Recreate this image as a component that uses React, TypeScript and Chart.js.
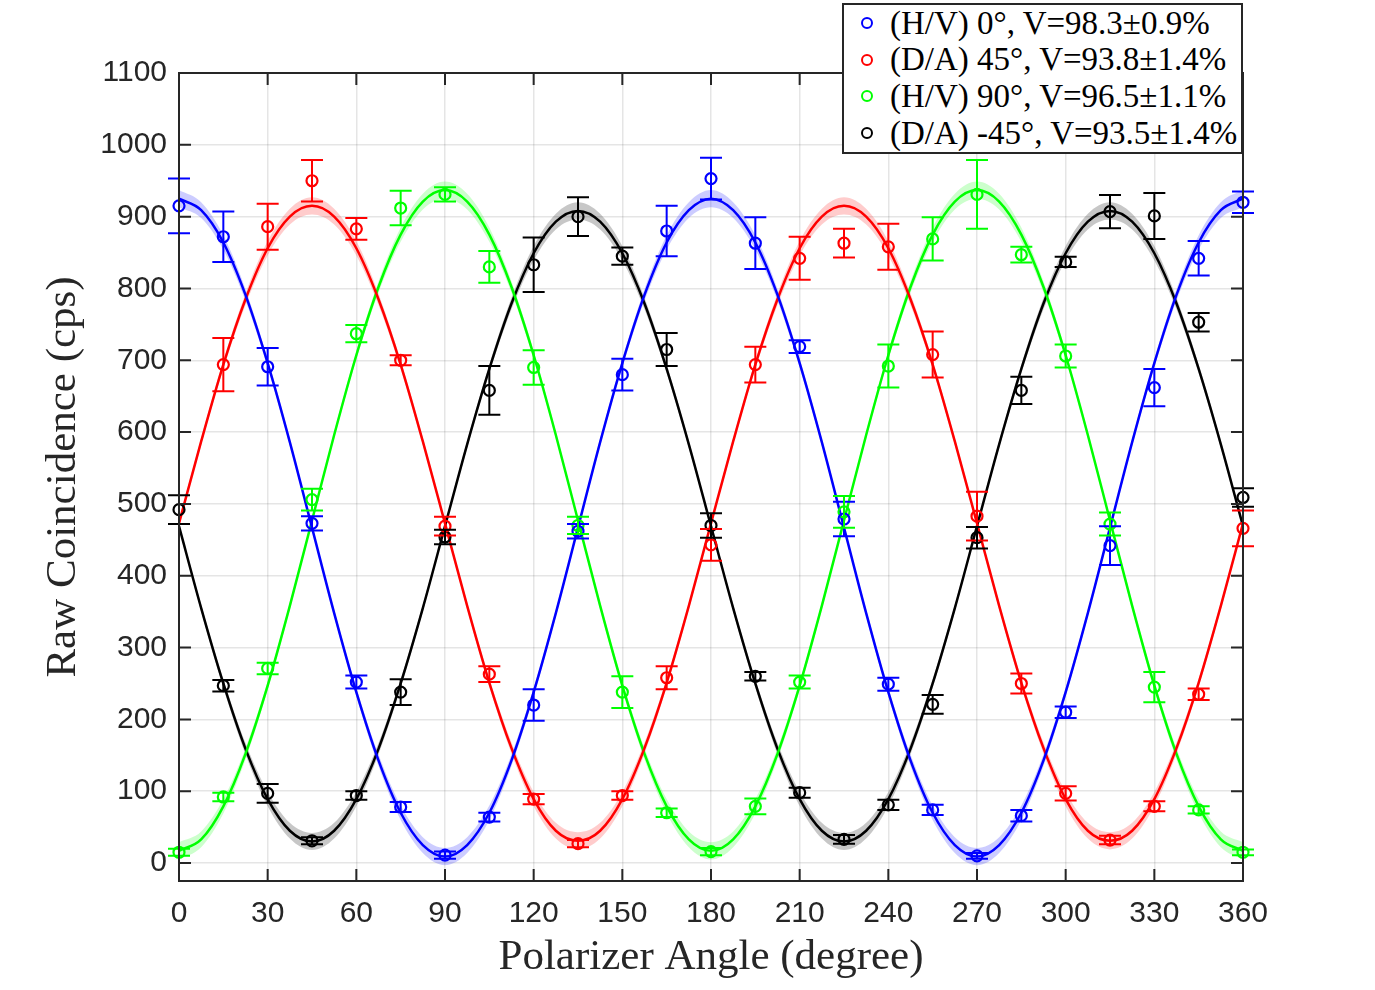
import { useEffect, useRef } from "react"
import { Chart, registerables, type Plugin } from "chart.js"

Chart.register(...registerables)

// measured polarizer angles (degree)
const angles = [0, 15, 30, 45, 60, 75, 90, 105, 120, 135, 150, 165, 180, 195, 210, 225, 240, 255, 270, 285, 300, 315, 330, 345, 360]

// raw coincidence counts (cps) and their error bars (null = no point)
const hv0Counts = [915, 872, 691, 473, 252, 78, 11, 64, 220, 462, 680, 880, 953, 863, 719, 479, 249, 74, 10, 66, 210, 442, 662, 842, 920]
const hv0Errors = [38, 35, 26, 10, 9, 7, 5, 6, 22, 10, 22, 35, 29, 36, 9, 24, 9, 7, 4, 8, 8, 27, 26, 24, 15]

const da45Counts = [null, 694, 886, 950, 883, 700, 469, 263, 89, 27, 94, 258, 443, 694, 842, 863, 858, 708, 483, 250, 97, 32, 79, 235, 466]
const da45Errors = [0, 37, 32, 29, 15, 7, 13, 11, 7, 5, 6, 16, 22, 25, 30, 20, 32, 32, 34, 14, 10, 6, 7, 8, 25]

const hv90Counts = [15, 92, 271, 506, 737, 912, 931, 830, 690, 470, 238, 70, 16, 79, 252, 489, 692, 869, 931, 847, 706, 472, 245, 74, 15]
const hv90Errors = [5, 6, 8, 15, 12, 24, 10, 22, 24, 12, 22, 6, 5, 11, 9, 22, 30, 30, 48, 11, 16, 16, 21, 5, 4]

const daM45Counts = [492, 247, 97, 31, 94, 238, 454, 658, 833, 900, 845, 715, 470, 260, 98, 33, 81, 221, 453, 658, 837, 907, 901, 753, 509]
const daM45Errors = [20, 8, 13, 5, 6, 18, 10, 34, 38, 27, 12, 23, 17, 6, 7, 6, 7, 13, 15, 19, 7, 23, 32, 13, 13]

// fitted curves, read every 7.5 degree
const fitAngles = [
  0, 7.5, 15, 22.5, 30, 37.5, 45, 52.5, 60, 67.5, 75, 82.5, 90, 97.5, 105, 112.5, 120, 127.5, 135, 142.5, 150, 157.5, 165, 172.5,
  180, 187.5, 195, 202.5, 210, 217.5, 225, 232.5, 240, 247.5, 255, 262.5, 270, 277.5, 285, 292.5, 300, 307.5, 315, 322.5, 330, 337.5, 345, 352.5, 360,
]
const hv0Fit = [
  925, 909, 864, 791, 696, 586, 467, 348, 238, 143, 70, 25, 9, 25, 70, 143, 238, 348, 467, 586, 696, 791, 864, 909,
  925, 909, 864, 791, 696, 586, 467, 348, 238, 143, 70, 25, 9, 25, 70, 143, 238, 348, 467, 586, 696, 791, 864, 909, 925,
]
const da45Fit = [
  473, 587, 694, 785, 856, 900, 915, 900, 856, 785, 694, 587, 473, 358, 251, 160, 89, 45, 31, 45, 89, 160, 251, 358,
  473, 587, 694, 785, 856, 900, 915, 900, 856, 785, 694, 587, 473, 358, 251, 160, 89, 45, 31, 45, 89, 160, 251, 358, 473,
]
const hv90Fit = [
  17, 33, 79, 152, 247, 358, 477, 596, 707, 802, 875, 921, 937, 921, 875, 802, 707, 596, 477, 358, 247, 152, 79, 33,
  17, 33, 79, 152, 247, 358, 477, 596, 707, 802, 875, 921, 937, 921, 875, 802, 707, 596, 477, 358, 247, 152, 79, 33, 17,
]
const daM45Fit = [
  469, 355, 250, 159, 89, 45, 30, 45, 89, 159, 250, 355, 469, 583, 688, 779, 849, 893, 908, 893, 849, 779, 688, 583,
  469, 355, 250, 159, 89, 45, 30, 45, 89, 159, 250, 355, 469, 583, 688, 779, 849, 893, 908, 893, 849, 779, 688, 583, 469,
]
// half width of the confidence band of the fits
const bandHV = [
  12, 11, 10, 8, 6, 5, 4, 5, 6, 8, 10, 11, 12, 11, 10, 8, 6, 5, 4, 5, 6, 8, 10, 11,
  12, 11, 10, 8, 6, 5, 4, 5, 6, 8, 10, 11, 12, 11, 10, 8, 6, 5, 4, 5, 6, 8, 10, 11, 12,
]
const bandDA = [
  4, 5, 6, 8, 10, 11, 12, 11, 10, 8, 6, 5, 4, 5, 6, 8, 10, 11, 12, 11, 10, 8, 6, 5,
  4, 5, 6, 8, 10, 11, 12, 11, 10, 8, 6, 5, 4, 5, 6, 8, 10, 11, 12, 11, 10, 8, 6, 5, 4,
]

const legendLabels = [
  "(H/V) 0°, V=98.3±0.9%",
  "(D/A) 45°, V=93.8±1.4%",
  "(H/V) 90°, V=96.5±1.1%",
  "(D/A) -45°, V=93.5±1.4%",
]

const series = [
  { label: legendLabels[0], counts: hv0Counts, errors: hv0Errors, fit: hv0Fit, band: bandHV, color: "#0000ff", shade: "rgba(0,0,255,0.2)" },
  { label: legendLabels[1], counts: da45Counts, errors: da45Errors, fit: da45Fit, band: bandDA, color: "#ff0000", shade: "rgba(255,0,0,0.2)" },
  { label: legendLabels[2], counts: hv90Counts, errors: hv90Errors, fit: hv90Fit, band: bandHV, color: "#00ff00", shade: "rgba(0,255,0,0.2)" },
  { label: legendLabels[3], counts: daM45Counts, errors: daM45Errors, fit: daM45Fit, band: bandDA, color: "#000000", shade: "rgba(0,0,0,0.22)" },
]

const axisColor = "#262626"
const sansFont = "'Liberation Sans', Arial, Helvetica, sans-serif"
const serifFont = "'Liberation Serif', 'Times New Roman', serif"

// vertical error bars with caps
const errorBarPlugin: Plugin = {
  id: "errorBars",
  afterDatasetsDraw(chart) {
    const ctx = chart.ctx
    const xs = chart.scales.x
    const ys = chart.scales.y
    ctx.save()
    ctx.lineWidth = 2
    series.forEach((s) => {
      ctx.strokeStyle = s.color
      s.counts.forEach((v, i) => {
        if (v === null) return
        const px = xs.getPixelForValue(angles[i])
        const top = ys.getPixelForValue(v + s.errors[i])
        const bottom = ys.getPixelForValue(v - s.errors[i])
        ctx.beginPath()
        ctx.moveTo(px, top)
        ctx.lineTo(px, bottom)
        ctx.moveTo(px - 11, top)
        ctx.lineTo(px + 11, top)
        ctx.moveTo(px - 11, bottom)
        ctx.lineTo(px + 11, bottom)
        ctx.stroke()
      })
    })
    ctx.restore()
  },
}

// MATLAB-like box with inward ticks on all four sides
const boxPlugin: Plugin = {
  id: "axisBox",
  afterDraw(chart) {
    const { ctx, chartArea: a } = chart
    const xs = chart.scales.x
    const ys = chart.scales.y
    ctx.save()
    ctx.strokeStyle = axisColor
    ctx.lineWidth = 2
    ctx.strokeRect(a.left, a.top, a.right - a.left, a.bottom - a.top)
    ctx.beginPath()
    xs.ticks.forEach((t) => {
      const px = xs.getPixelForValue(t.value)
      ctx.moveTo(px, a.bottom)
      ctx.lineTo(px, a.bottom - 12)
      ctx.moveTo(px, a.top)
      ctx.lineTo(px, a.top + 12)
    })
    ys.ticks.forEach((t) => {
      const py = ys.getPixelForValue(t.value)
      ctx.moveTo(a.left, py)
      ctx.lineTo(a.left + 12, py)
      ctx.moveTo(a.right, py)
      ctx.lineTo(a.right - 12, py)
    })
    ctx.stroke()
    ctx.restore()
  },
}

export default function App() {
  const canvasRef = useRef<HTMLCanvasElement>(null)

  useEffect(() => {
    if (!canvasRef.current) return
    document.body.style.margin = "0"

    const datasets: any[] = []
    series.forEach((s) => {
      datasets.push({
        label: s.label + " band",
        data: s.fit.map((v, i) => ({ x: fitAngles[i], y: v + s.band[i] })),
        borderWidth: 0,
        pointRadius: 0,
        cubicInterpolationMode: "monotone",
        backgroundColor: s.shade,
        fill: "+1",
        order: 30,
      })
      datasets.push({
        label: s.label + " band low",
        data: s.fit.map((v, i) => ({ x: fitAngles[i], y: v - s.band[i] })),
        borderWidth: 0,
        pointRadius: 0,
        cubicInterpolationMode: "monotone",
        fill: false,
        order: 30,
      })
    })
    series.forEach((s) => {
      datasets.push({
        label: s.label + " fit",
        data: s.fit.map((v, i) => ({ x: fitAngles[i], y: v })),
        borderColor: s.color,
        borderWidth: 2.5,
        pointRadius: 0,
        cubicInterpolationMode: "monotone",
        fill: false,
        order: 20,
      })
    })
    series.forEach((s) => {
      datasets.push({
        label: s.label,
        data: s.counts.map((v, i) => ({ x: angles[i], y: v })),
        showLine: false,
        pointStyle: "circle",
        pointRadius: 5.5,
        pointBorderWidth: 2.2,
        pointBorderColor: s.color,
        pointBackgroundColor: "rgba(0,0,0,0)",
        clip: false,
        order: 10,
      })
    })

    const chart = new Chart(canvasRef.current, {
      type: "line",
      data: { datasets },
      options: {
        responsive: false,
        animation: false,
        devicePixelRatio: 1,
        layout: { padding: { left: 0, top: 73, right: 132, bottom: 0 } },
        plugins: {
          legend: { display: false },
          tooltip: { enabled: false },
        },
        scales: {
          x: {
            type: "linear",
            min: 0,
            max: 360,
            afterFit: (scale: any) => {
              scale.height = 109
            },
            ticks: {
              stepSize: 30,
              includeBounds: false,
              padding: 15,
              color: axisColor,
              font: { family: sansFont, size: 30 },
              callback: (v: any) => String(v),
            },
            grid: { color: "rgba(0,0,0,0.1)", lineWidth: 1.5, drawTicks: false },
            border: { display: false },
            title: {
              display: true,
              text: "Polarizer Angle (degree)",
              color: axisColor,
              font: { family: serifFont, size: 43 },
              padding: { top: 0, bottom: 6 },
            },
          },
          y: {
            type: "linear",
            min: -25,
            max: 1100,
            afterFit: (scale: any) => {
              scale.width = 179
            },
            ticks: {
              stepSize: 100,
              includeBounds: false,
              padding: 12,
              color: axisColor,
              font: { family: sansFont, size: 30 },
              callback: (v: any) => String(v),
            },
            grid: { color: "rgba(0,0,0,0.1)", lineWidth: 1.5, drawTicks: false },
            border: { display: false },
            title: {
              display: true,
              text: "Raw Coincidence (cps)",
              color: axisColor,
              font: { family: serifFont, size: 43 },
              padding: { top: 38, bottom: 0 },
            },
          },
        },
      },
      plugins: [errorBarPlugin, boxPlugin],
    })

    return () => {
      chart.destroy()
    }
  }, [])

  return (
    <div style={{ position: "absolute", left: 0, top: 0, width: 1375, height: 990, background: "#fff" }}>
      <canvas ref={canvasRef} width={1375} height={990} />
      <div
        style={{
          position: "absolute",
          left: 842,
          top: 3,
          width: 401,
          height: 151,
          boxSizing: "border-box",
          border: `2px solid ${axisColor}`,
          background: "#fff",
          fontFamily: serifFont,
          fontSize: 33,
          color: "#000",
        }}
      >
        {series.map((s, i) => (
          <div
            key={s.label}
            style={{ position: "absolute", left: 0, top: 0 + i * 36.7, height: 36, display: "flex", alignItems: "center", whiteSpace: "nowrap" }}
          >
            <span
              style={{
                display: "inline-block",
                width: 8,
                height: 8,
                borderRadius: "50%",
                border: `2.5px solid ${s.color}`,
                marginLeft: 17,
                marginRight: 17,
              }}
            />
            <span>{legendLabels[i]}</span>
          </div>
        ))}
      </div>
    </div>
  )
}
